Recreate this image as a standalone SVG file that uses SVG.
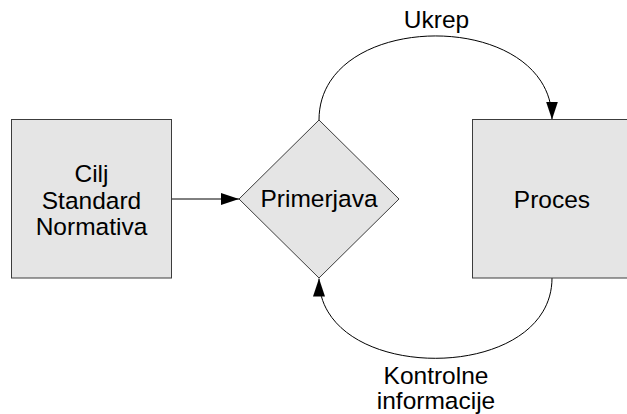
<svg xmlns="http://www.w3.org/2000/svg" width="627" height="414" viewBox="0 0 627 414">
  <defs>
    <style>
      .node { fill: #e5e5e5; stroke: #3c3c3c; stroke-width: 1; }
      .label { font-family: "Liberation Sans", Arial, sans-serif; font-size: 24.5px; fill: #000; text-anchor: middle; }
      .link { fill: none; stroke: #000; stroke-width: 1; }
    </style>
    <marker id="arrow" markerUnits="userSpaceOnUse" markerWidth="18" markerHeight="12" refX="18" refY="6" orient="auto">
      <path d="M0,0 L18,6 L0,12 z" fill="#000"/>
    </marker>
  </defs>
  <rect width="627" height="414" fill="#fff"/>

  <g id="connectors">
    <line class="link" x1="171" y1="199" x2="239" y2="199" stroke="#333" marker-end="url(#arrow)"/>
    <path class="link" d="M319,120 C319,8 552,8 552,119.5" marker-end="url(#arrow)"/>
    <path class="link" d="M552,278 C552,385 319,385 319,278.5" marker-end="url(#arrow)"/>
  </g>

  <g id="node-cilj">
    <rect class="node" x="11.5" y="119.5" width="160" height="158.5"/>
    <text class="label" x="91.5" y="182">Cilj</text>
    <text class="label" x="91.5" y="208.5">Standard</text>
    <text class="label" x="91.5" y="235">Normativa</text>
  </g>

  <g id="node-primerjava">
    <polygon class="node" points="319,120 399,199 319,278 239,199"/>
    <text class="label" x="319" y="207">Primerjava</text>
  </g>

  <g id="node-proces">
    <rect class="node" x="472.5" y="119.5" width="160" height="158.5"/>
    <text class="label" x="552" y="208">Proces</text>
  </g>

  <g id="edge-labels">
    <text class="label" x="436.5" y="28">Ukrep</text>
    <text class="label" x="436" y="384">Kontrolne</text>
    <text class="label" x="436" y="409">informacije</text>
  </g>
</svg>
